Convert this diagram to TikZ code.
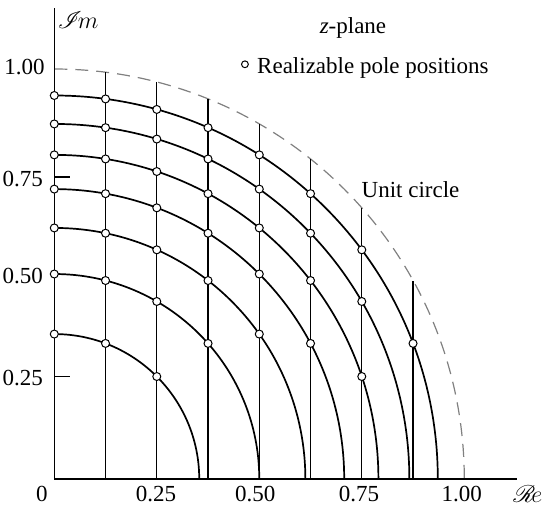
\documentclass[tikz,border=0pt]{standalone}
\usepackage{fontspec}
\setmainfont{Liberation Serif}
\usepackage{mathrsfs}
\begin{document}
\begin{tikzpicture}[x=205pt,y=205pt,font=\fontsize{11.5}{13.5}\selectfont,
  axisline/.style={line width=0.7pt},
  arcline/.style={line width=0.85pt},
  vline/.style={line width=0.6pt},
  unitc/.style={line width=0.6pt,gray,dash pattern=on 6.5pt off 4pt},
  pole/.style={circle,draw,fill=white,inner sep=0pt,minimum size=4pt,line width=0.5pt},
  legpole/.style={circle,draw,fill=white,inner sep=0pt,minimum size=3.4pt,line width=0.5pt},
  lbl/.style={inner sep=0pt}]
\useasboundingbox (-0.1324,-0.0634) rectangle (1.2115,1.1683);
% unit circle
\draw[unitc] (0,1) arc[start angle=90,end angle=0,radius=1];
% axes
\coordinate (O) at (0,0);
\coordinate (ytop) at (0,1.149);
\coordinate (xend) at (1.128,0);
\draw[axisline] (O) -- (ytop);
\draw[axisline] (O) -- (xend);
% ticks
\draw[axisline] (0,0.737) -- (0.039,0.737);
\draw[axisline] (0,0.2495) -- (0.039,0.2495);
% arcs of constant radius
\foreach \k in {1,...,7}{
  \pgfmathsetmacro{\r}{sqrt(\k/8)}
  \draw[arcline] (0,\r) arc[start angle=90,end angle=0,radius=\r];
}
% vertical lines
\foreach \m in {1,...,7}{
  \pgfmathsetmacro{\xx}{\m/8}
  \pgfmathsetmacro{\yy}{sqrt(1-\xx*\xx)}
  \draw[vline] (\xx,0) -- (\xx,\yy);
}
% realizable poles
\foreach \k in {1,...,7}{
  \foreach \m in {0,...,7}{
    \pgfmathtruncatemacro{\ok}{\m*\m < 8*\k ? 1 : 0}
    \ifnum\ok=1
      \pgfmathsetmacro{\px}{\m/8}
      \pgfmathsetmacro{\py}{sqrt(\k/8-\px*\px)}
      \node[pole] at (\px,\py) {};
    \fi
  }
}
% axis labels
\node[lbl] (im) at (0.058,1.12) {$\mathscr{I}\!m$};
\node[lbl] (re) at (1.155,-0.036) {$\mathscr{R}\!e$};
\node[lbl,anchor=east] (y100) at (-0.0227,1.005) {1.00};
\node[lbl,anchor=east] (y075) at (-0.027,0.732) {0.75};
\node[lbl,anchor=east] (y050) at (-0.027,0.495) {0.50};
\node[lbl,anchor=east] (y025) at (-0.027,0.247) {0.25};
\node[lbl] (x0) at (-0.030,-0.037) {0};
\node[lbl] (x025) at (0.248,-0.037) {0.25};
\node[lbl] (x050) at (0.490,-0.037) {0.50};
\node[lbl] (x075) at (0.743,-0.037) {0.75};
\node[lbl] (x100) at (0.994,-0.037) {1.00};
% legend and notes
\node[lbl] (zp) at (0.7285,1.10) {\textit{z}-plane};
\node[legpole] (leg) at (0.465,1.0115) {};
\node[lbl,anchor=base west] (legtxt) at (0.494,0.99) {Realizable pole positions};
\node[lbl] (uc) at (0.869,0.707) {Unit circle};
\end{tikzpicture}
\end{document}
